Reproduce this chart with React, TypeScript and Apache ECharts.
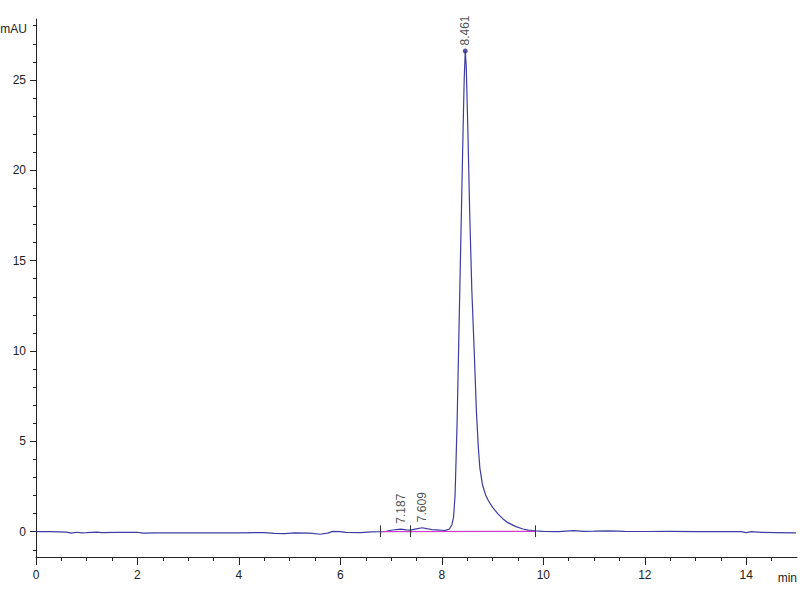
import React, { useEffect, useRef } from "react";
import * as echarts from "echarts";

// Chromatogram trace: retention time (min) and absorbance (mAU)
const retentionTimes = [
  0, 0.3, 0.6, 0.7, 0.8, 0.9, 1.0, 1.2, 1.3, 1.6, 2.0, 2.1, 2.4, 3.0, 3.5, 4.0, 4.5, 4.7, 4.9, 5.1,
  5.4, 5.6, 5.75, 5.85, 6.0, 6.1, 6.4, 6.6, 6.79, 6.9, 7.0, 7.1, 7.187, 7.3, 7.38, 7.5, 7.609, 7.7,
  7.8, 7.9, 8.0, 8.05, 8.1, 8.15, 8.2, 8.23, 8.26, 8.3, 8.34, 8.38, 8.42, 8.44, 8.461, 8.48, 8.51,
  8.55, 8.59, 8.64, 8.68, 8.72, 8.75, 8.8, 8.86, 8.92, 9.0, 9.1, 9.2, 9.3, 9.46, 9.6, 9.7, 9.84, 10.0,
  10.3, 10.6, 10.8, 11.0, 11.3, 11.6, 12.0, 12.5, 13.0, 13.5, 13.9, 14.0, 14.1, 14.3, 14.6, 14.98,
];
const absorbance = [
  0, 0, -0.02, -0.08, -0.03, -0.06, -0.05, -0.02, -0.05, -0.04, -0.03, -0.08, -0.07, -0.06, -0.06,
  -0.06, -0.05, -0.09, -0.11, -0.07, -0.08, -0.14, -0.08, 0.02, 0.0, -0.04, -0.05, -0.01, 0.0, 0.02,
  0.08, 0.12, 0.14, 0.1, 0.09, 0.16, 0.22, 0.17, 0.12, 0.1, 0.08, 0.06, 0.1, 0.15, 0.4, 0.8, 2.0,
  6.0, 11.5, 17.0, 22.5, 25.0, 26.6, 25.8, 22.5, 17.5, 13.4, 9.8, 6.7, 4.6, 3.5, 2.6, 2.05, 1.7, 1.35,
  1.0, 0.72, 0.5, 0.28, 0.15, 0.09, 0.05, 0.02, 0.0, 0.06, 0.02, 0.03, 0.05, 0.02, 0.01, 0.02, 0.0,
  0.0, 0.0, -0.05, 0.0, -0.04, -0.05, -0.06,
];

// Integrated peaks
const peakTimes = [7.187, 7.609, 8.461];
const peakHeights = [0.14, 0.22, 26.6];
const mainPeakTime = 8.461;
const mainPeakHeight = 26.6;

// Integration baseline and its split marks
const baselineStart = [6.79, 0.0];
const baselineEnd = [9.84, 0.02];
const splitMarks = [6.79, 7.38, 9.84];

// Axis ticks
const xMajorTicks = [0, 2, 4, 6, 8, 10, 12, 14];
const xMinorTicks = [0.5, 1, 1.5, 2.5, 3, 3.5, 4.5, 5, 5.5, 6.5, 7, 7.5, 8.5, 9, 9.5, 10.5, 11, 11.5, 12.5, 13, 13.5, 14.5];
const yMajorTicks = [0, 5, 10, 15, 20, 25];
const yMinorTicks = [-1, 1, 2, 3, 4, 6, 7, 8, 9, 11, 12, 13, 14, 16, 17, 18, 19, 21, 22, 23, 24, 26, 27, 28];

const FONT = "Liberation Sans, Arial, sans-serif";
const AXIS_COLOR = "#222222";
const TEXT_COLOR = "#222222";

export default function App() {
  const ref = useRef<HTMLDivElement>(null);

  useEffect(() => {
    document.body.style.margin = "0";
    if (!ref.current) return;
    const chart = echarts.init(ref.current, undefined, { renderer: "svg" });

    const trace = retentionTimes.map((t, i) => [t, absorbance[i]]);
    const peaks = peakTimes.map((t, i) => [t, peakHeights[i]]);

    const option: any = {
      animation: false,
      backgroundColor: "#ffffff",
      grid: { left: 36, right: 3, top: 19, bottom: 43 },
      xAxis: [
        {
          type: "value",
          min: 0,
          max: 15,
          position: "bottom",
          axisLine: { onZero: false, lineStyle: { color: AXIS_COLOR, width: 1 } },
          axisTick: { customValues: xMajorTicks, length: 8, lineStyle: { color: AXIS_COLOR } },
          axisLabel: { customValues: xMajorTicks, margin: 12, color: TEXT_COLOR, fontSize: 12, fontFamily: FONT },
          splitLine: { show: false },
        },
        {
          type: "value",
          min: 0,
          max: 15,
          position: "bottom",
          axisLine: { show: false, onZero: false },
          axisTick: { customValues: xMinorTicks, length: 4, lineStyle: { color: AXIS_COLOR } },
          axisLabel: { show: false },
          splitLine: { show: false },
        },
      ],
      yAxis: [
        {
          type: "value",
          min: -1.4,
          max: 28.37,
          position: "left",
          axisLine: { show: true, onZero: false, lineStyle: { color: AXIS_COLOR, width: 1 } },
          axisTick: { show: true, customValues: yMajorTicks, length: 6, lineStyle: { color: AXIS_COLOR } },
          axisLabel: { customValues: yMajorTicks, margin: 10, color: TEXT_COLOR, fontSize: 12, fontFamily: FONT },
          splitLine: { show: false },
        },
        {
          type: "value",
          min: -1.4,
          max: 28.37,
          position: "left",
          axisLine: { show: false, onZero: false },
          axisTick: { show: true, customValues: yMinorTicks, length: 3, lineStyle: { color: AXIS_COLOR } },
          axisLabel: { show: false },
          splitLine: { show: false },
        },
      ],
      graphic: [
        {
          type: "text",
          style: { text: "mAU", x: 27, y: 29, align: "right", verticalAlign: "middle", fontSize: 12, fontFamily: FONT, fill: TEXT_COLOR },
        },
        {
          type: "text",
          style: { text: "min", x: 797, y: 578, align: "right", verticalAlign: "middle", fontSize: 12, fontFamily: FONT, fill: TEXT_COLOR },
        },
      ],
      series: [
        {
          name: "signal",
          type: "line",
          xAxisIndex: 0,
          yAxisIndex: 0,
          data: trace,
          symbol: "none",
          lineStyle: { color: "#3c3ca2", width: 1.2 },
          silent: true,
          z: 2,
        },
        {
          name: "baseline",
          type: "line",
          xAxisIndex: 0,
          yAxisIndex: 0,
          data: [baselineStart, baselineEnd],
          symbol: "none",
          lineStyle: { color: "#cc3fcc", width: 1.2 },
          silent: true,
          z: 3,
          markLine: {
            silent: true,
            symbol: "none",
            label: { show: false },
            lineStyle: { color: "#333333", width: 1, type: "solid" },
            data: splitMarks.map((t) => [{ coord: [t, -0.3] }, { coord: [t, 0.35] }]),
          },
        },
        {
          name: "apex",
          type: "scatter",
          xAxisIndex: 0,
          yAxisIndex: 0,
          data: [[mainPeakTime, mainPeakHeight]],
          symbol: "circle",
          symbolSize: 5,
          itemStyle: { color: "#2c2c86" },
          silent: true,
          z: 4,
        },
        {
          name: "peakLabels",
          type: "scatter",
          xAxisIndex: 0,
          yAxisIndex: 0,
          data: peaks,
          symbol: "circle",
          symbolSize: 1,
          itemStyle: { color: "rgba(0,0,0,0)" },
          silent: true,
          z: 5,
          label: {
            show: true,
            position: "top",
            distance: 5,
            rotate: 90,
            align: "left",
            verticalAlign: "middle",
            color: TEXT_COLOR,
            fontSize: 12,
            fontFamily: FONT,
            formatter: (p: any) => p.value[0].toFixed(3),
          },
        },
      ],
    };

    chart.setOption(option);
    return () => chart.dispose();
  }, []);

  return <div ref={ref} style={{ width: 800, height: 600 }} />;
}
